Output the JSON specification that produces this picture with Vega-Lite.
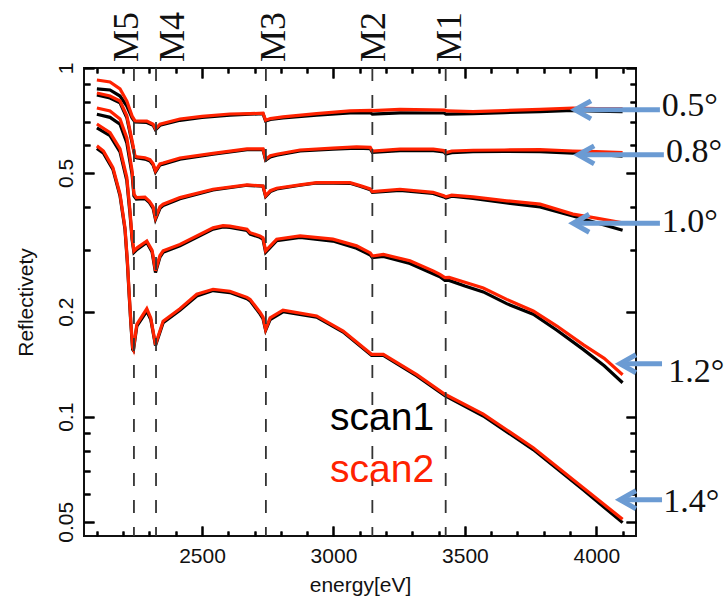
{
  "$schema": "https://vega.github.io/schema/vega-lite/v6.json",
  "width": 552,
  "height": 468,
  "autosize": {"type": "none"},
  "padding": {"left": 84, "top": 68, "right": 92, "bottom": 62},
  "background": "white",
  "config": {
    "view": {"stroke": "#111111", "strokeWidth": 2},
    "axis": {
      "labelFont": "Liberation Sans",
      "titleFont": "Liberation Sans",
      "labelFontSize": 21,
      "titleFontSize": 21,
      "titleFontWeight": "normal",
      "labelColor": "#111111",
      "titleColor": "#111111",
      "labelOverlap": false
    }
  },
  "datasets": {
    "curves": [
      {"a":"0.5","s":"scan1","E":2100,"R":0.871},{"a":"0.5","s":"scan1","E":2150,"R":0.865},{"a":"0.5","s":"scan1","E":2188,"R":0.831},{"a":"0.5","s":"scan1","E":2214,"R":0.778},{"a":"0.5","s":"scan1","E":2234,"R":0.719},{"a":"0.5","s":"scan1","E":2245,"R":0.700},{"a":"0.5","s":"scan1","E":2290,"R":0.698},{"a":"0.5","s":"scan1","E":2314,"R":0.685},{"a":"0.5","s":"scan1","E":2323,"R":0.665},{"a":"0.5","s":"scan1","E":2340,"R":0.685},{"a":"0.5","s":"scan1","E":2416,"R":0.708},{"a":"0.5","s":"scan1","E":2500,"R":0.722},{"a":"0.5","s":"scan1","E":2606,"R":0.733},{"a":"0.5","s":"scan1","E":2683,"R":0.737},{"a":"0.5","s":"scan1","E":2732,"R":0.740},{"a":"0.5","s":"scan1","E":2742,"R":0.705},{"a":"0.5","s":"scan1","E":2760,"R":0.712},{"a":"0.5","s":"scan1","E":2808,"R":0.719},{"a":"0.5","s":"scan1","E":2936,"R":0.733},{"a":"0.5","s":"scan1","E":3063,"R":0.744},{"a":"0.5","s":"scan1","E":3140,"R":0.745},{"a":"0.5","s":"scan1","E":3148,"R":0.737},{"a":"0.5","s":"scan1","E":3253,"R":0.744},{"a":"0.5","s":"scan1","E":3420,"R":0.743},{"a":"0.5","s":"scan1","E":3428,"R":0.737},{"a":"0.5","s":"scan1","E":3531,"R":0.740},{"a":"0.5","s":"scan1","E":3650,"R":0.745},{"a":"0.5","s":"scan1","E":3786,"R":0.750},{"a":"0.5","s":"scan1","E":3911,"R":0.756},{"a":"0.5","s":"scan1","E":4000,"R":0.752},{"a":"0.5","s":"scan1","E":4100,"R":0.750},
      {"a":"0.5","s":"scan2","E":2100,"R":0.924},{"a":"0.5","s":"scan2","E":2150,"R":0.912},{"a":"0.5","s":"scan2","E":2188,"R":0.871},{"a":"0.5","s":"scan2","E":2214,"R":0.804},{"a":"0.5","s":"scan2","E":2234,"R":0.728},{"a":"0.5","s":"scan2","E":2245,"R":0.705},{"a":"0.5","s":"scan2","E":2290,"R":0.704},{"a":"0.5","s":"scan2","E":2314,"R":0.690},{"a":"0.5","s":"scan2","E":2323,"R":0.669},{"a":"0.5","s":"scan2","E":2340,"R":0.690},{"a":"0.5","s":"scan2","E":2416,"R":0.714},{"a":"0.5","s":"scan2","E":2500,"R":0.727},{"a":"0.5","s":"scan2","E":2606,"R":0.738},{"a":"0.5","s":"scan2","E":2683,"R":0.740},{"a":"0.5","s":"scan2","E":2732,"R":0.742},{"a":"0.5","s":"scan2","E":2742,"R":0.708},{"a":"0.5","s":"scan2","E":2760,"R":0.716},{"a":"0.5","s":"scan2","E":2808,"R":0.724},{"a":"0.5","s":"scan2","E":2936,"R":0.740},{"a":"0.5","s":"scan2","E":3063,"R":0.753},{"a":"0.5","s":"scan2","E":3145,"R":0.756},{"a":"0.5","s":"scan2","E":3150,"R":0.755},{"a":"0.5","s":"scan2","E":3253,"R":0.761},{"a":"0.5","s":"scan2","E":3424,"R":0.757},{"a":"0.5","s":"scan2","E":3432,"R":0.753},{"a":"0.5","s":"scan2","E":3531,"R":0.750},{"a":"0.5","s":"scan2","E":3650,"R":0.755},{"a":"0.5","s":"scan2","E":3786,"R":0.761},{"a":"0.5","s":"scan2","E":3911,"R":0.768},{"a":"0.5","s":"scan2","E":4000,"R":0.765},{"a":"0.5","s":"scan2","E":4100,"R":0.765},
      {"a":"0.8","s":"scan1","E":2100,"R":0.837},{"a":"0.8","s":"scan1","E":2150,"R":0.820},{"a":"0.8","s":"scan1","E":2188,"R":0.794},{"a":"0.8","s":"scan1","E":2214,"R":0.720},{"a":"0.8","s":"scan1","E":2234,"R":0.610},{"a":"0.8","s":"scan1","E":2245,"R":0.555},{"a":"0.8","s":"scan1","E":2253,"R":0.552},{"a":"0.8","s":"scan1","E":2283,"R":0.548},{"a":"0.8","s":"scan1","E":2302,"R":0.541},{"a":"0.8","s":"scan1","E":2314,"R":0.527},{"a":"0.8","s":"scan1","E":2323,"R":0.503},{"a":"0.8","s":"scan1","E":2340,"R":0.527},{"a":"0.8","s":"scan1","E":2352,"R":0.530},{"a":"0.8","s":"scan1","E":2416,"R":0.548},{"a":"0.8","s":"scan1","E":2542,"R":0.566},{"a":"0.8","s":"scan1","E":2671,"R":0.583},{"a":"0.8","s":"scan1","E":2732,"R":0.583},{"a":"0.8","s":"scan1","E":2742,"R":0.544},{"a":"0.8","s":"scan1","E":2760,"R":0.556},{"a":"0.8","s":"scan1","E":2784,"R":0.562},{"a":"0.8","s":"scan1","E":2873,"R":0.578},{"a":"0.8","s":"scan1","E":2998,"R":0.585},{"a":"0.8","s":"scan1","E":3088,"R":0.589},{"a":"0.8","s":"scan1","E":3140,"R":0.587},{"a":"0.8","s":"scan1","E":3148,"R":0.573},{"a":"0.8","s":"scan1","E":3253,"R":0.579},{"a":"0.8","s":"scan1","E":3380,"R":0.579},{"a":"0.8","s":"scan1","E":3420,"R":0.575},{"a":"0.8","s":"scan1","E":3428,"R":0.567},{"a":"0.8","s":"scan1","E":3450,"R":0.572},{"a":"0.8","s":"scan1","E":3531,"R":0.576},{"a":"0.8","s":"scan1","E":3650,"R":0.577},{"a":"0.8","s":"scan1","E":3786,"R":0.576},{"a":"0.8","s":"scan1","E":3911,"R":0.570},{"a":"0.8","s":"scan1","E":4000,"R":0.565},{"a":"0.8","s":"scan1","E":4100,"R":0.559},
      {"a":"0.8","s":"scan2","E":2100,"R":0.848},{"a":"0.8","s":"scan2","E":2150,"R":0.831},{"a":"0.8","s":"scan2","E":2188,"R":0.804},{"a":"0.8","s":"scan2","E":2214,"R":0.729},{"a":"0.8","s":"scan2","E":2234,"R":0.618},{"a":"0.8","s":"scan2","E":2245,"R":0.559},{"a":"0.8","s":"scan2","E":2253,"R":0.556},{"a":"0.8","s":"scan2","E":2283,"R":0.553},{"a":"0.8","s":"scan2","E":2302,"R":0.546},{"a":"0.8","s":"scan2","E":2314,"R":0.531},{"a":"0.8","s":"scan2","E":2323,"R":0.507},{"a":"0.8","s":"scan2","E":2340,"R":0.531},{"a":"0.8","s":"scan2","E":2352,"R":0.534},{"a":"0.8","s":"scan2","E":2416,"R":0.552},{"a":"0.8","s":"scan2","E":2542,"R":0.569},{"a":"0.8","s":"scan2","E":2671,"R":0.586},{"a":"0.8","s":"scan2","E":2732,"R":0.586},{"a":"0.8","s":"scan2","E":2742,"R":0.547},{"a":"0.8","s":"scan2","E":2760,"R":0.560},{"a":"0.8","s":"scan2","E":2784,"R":0.566},{"a":"0.8","s":"scan2","E":2873,"R":0.582},{"a":"0.8","s":"scan2","E":2998,"R":0.589},{"a":"0.8","s":"scan2","E":3088,"R":0.594},{"a":"0.8","s":"scan2","E":3140,"R":0.592},{"a":"0.8","s":"scan2","E":3148,"R":0.578},{"a":"0.8","s":"scan2","E":3253,"R":0.585},{"a":"0.8","s":"scan2","E":3380,"R":0.585},{"a":"0.8","s":"scan2","E":3420,"R":0.580},{"a":"0.8","s":"scan2","E":3428,"R":0.572},{"a":"0.8","s":"scan2","E":3450,"R":0.578},{"a":"0.8","s":"scan2","E":3531,"R":0.581},{"a":"0.8","s":"scan2","E":3650,"R":0.582},{"a":"0.8","s":"scan2","E":3786,"R":0.583},{"a":"0.8","s":"scan2","E":3911,"R":0.578},{"a":"0.8","s":"scan2","E":4000,"R":0.576},{"a":"0.8","s":"scan2","E":4100,"R":0.572},
      {"a":"1.0","s":"scan1","E":2100,"R":0.737},{"a":"1.0","s":"scan1","E":2150,"R":0.722},{"a":"1.0","s":"scan1","E":2188,"R":0.690},{"a":"1.0","s":"scan1","E":2214,"R":0.610},{"a":"1.0","s":"scan1","E":2234,"R":0.495},{"a":"1.0","s":"scan1","E":2241,"R":0.430},{"a":"1.0","s":"scan1","E":2250,"R":0.421},{"a":"1.0","s":"scan1","E":2283,"R":0.422},{"a":"1.0","s":"scan1","E":2300,"R":0.411},{"a":"1.0","s":"scan1","E":2314,"R":0.396},{"a":"1.0","s":"scan1","E":2323,"R":0.368},{"a":"1.0","s":"scan1","E":2340,"R":0.396},{"a":"1.0","s":"scan1","E":2352,"R":0.403},{"a":"1.0","s":"scan1","E":2416,"R":0.422},{"a":"1.0","s":"scan1","E":2542,"R":0.447},{"a":"1.0","s":"scan1","E":2671,"R":0.461},{"a":"1.0","s":"scan1","E":2732,"R":0.458},{"a":"1.0","s":"scan1","E":2742,"R":0.428},{"a":"1.0","s":"scan1","E":2760,"R":0.442},{"a":"1.0","s":"scan1","E":2784,"R":0.450},{"a":"1.0","s":"scan1","E":2873,"R":0.461},{"a":"1.0","s":"scan1","E":2936,"R":0.468},{"a":"1.0","s":"scan1","E":3063,"R":0.467},{"a":"1.0","s":"scan1","E":3101,"R":0.458},{"a":"1.0","s":"scan1","E":3140,"R":0.448},{"a":"1.0","s":"scan1","E":3148,"R":0.440},{"a":"1.0","s":"scan1","E":3253,"R":0.446},{"a":"1.0","s":"scan1","E":3379,"R":0.437},{"a":"1.0","s":"scan1","E":3420,"R":0.427},{"a":"1.0","s":"scan1","E":3428,"R":0.424},{"a":"1.0","s":"scan1","E":3450,"R":0.429},{"a":"1.0","s":"scan1","E":3531,"R":0.423},{"a":"1.0","s":"scan1","E":3659,"R":0.410},{"a":"1.0","s":"scan1","E":3786,"R":0.3995},{"a":"1.0","s":"scan1","E":3911,"R":0.3765},{"a":"1.0","s":"scan1","E":4000,"R":0.360},{"a":"1.0","s":"scan1","E":4100,"R":0.3425},
      {"a":"1.0","s":"scan2","E":2100,"R":0.768},{"a":"1.0","s":"scan2","E":2150,"R":0.753},{"a":"1.0","s":"scan2","E":2188,"R":0.714},{"a":"1.0","s":"scan2","E":2214,"R":0.630},{"a":"1.0","s":"scan2","E":2234,"R":0.507},{"a":"1.0","s":"scan2","E":2241,"R":0.435},{"a":"1.0","s":"scan2","E":2250,"R":0.425},{"a":"1.0","s":"scan2","E":2283,"R":0.426},{"a":"1.0","s":"scan2","E":2300,"R":0.415},{"a":"1.0","s":"scan2","E":2314,"R":0.400},{"a":"1.0","s":"scan2","E":2323,"R":0.372},{"a":"1.0","s":"scan2","E":2340,"R":0.400},{"a":"1.0","s":"scan2","E":2352,"R":0.407},{"a":"1.0","s":"scan2","E":2416,"R":0.425},{"a":"1.0","s":"scan2","E":2542,"R":0.449},{"a":"1.0","s":"scan2","E":2671,"R":0.462},{"a":"1.0","s":"scan2","E":2732,"R":0.459},{"a":"1.0","s":"scan2","E":2742,"R":0.430},{"a":"1.0","s":"scan2","E":2760,"R":0.445},{"a":"1.0","s":"scan2","E":2784,"R":0.452},{"a":"1.0","s":"scan2","E":2873,"R":0.462},{"a":"1.0","s":"scan2","E":2936,"R":0.469},{"a":"1.0","s":"scan2","E":3063,"R":0.469},{"a":"1.0","s":"scan2","E":3101,"R":0.460},{"a":"1.0","s":"scan2","E":3140,"R":0.450},{"a":"1.0","s":"scan2","E":3148,"R":0.442},{"a":"1.0","s":"scan2","E":3253,"R":0.449},{"a":"1.0","s":"scan2","E":3379,"R":0.440},{"a":"1.0","s":"scan2","E":3420,"R":0.430},{"a":"1.0","s":"scan2","E":3428,"R":0.427},{"a":"1.0","s":"scan2","E":3450,"R":0.432},{"a":"1.0","s":"scan2","E":3531,"R":0.427},{"a":"1.0","s":"scan2","E":3659,"R":0.416},{"a":"1.0","s":"scan2","E":3786,"R":0.407},{"a":"1.0","s":"scan2","E":3911,"R":0.381},{"a":"1.0","s":"scan2","E":4000,"R":0.371},{"a":"1.0","s":"scan2","E":4100,"R":0.360},
      {"a":"1.2","s":"scan1","E":2100,"R":0.673},{"a":"1.2","s":"scan1","E":2150,"R":0.640},{"a":"1.2","s":"scan1","E":2188,"R":0.575},{"a":"1.2","s":"scan1","E":2214,"R":0.475},{"a":"1.2","s":"scan1","E":2226,"R":0.382},{"a":"1.2","s":"scan1","E":2234,"R":0.322},{"a":"1.2","s":"scan1","E":2241,"R":0.296},{"a":"1.2","s":"scan1","E":2253,"R":0.302},{"a":"1.2","s":"scan1","E":2290,"R":0.316},{"a":"1.2","s":"scan1","E":2310,"R":0.297},{"a":"1.2","s":"scan1","E":2323,"R":0.259},{"a":"1.2","s":"scan1","E":2340,"R":0.287},{"a":"1.2","s":"scan1","E":2352,"R":0.296},{"a":"1.2","s":"scan1","E":2416,"R":0.309},{"a":"1.2","s":"scan1","E":2542,"R":0.345},{"a":"1.2","s":"scan1","E":2580,"R":0.350},{"a":"1.2","s":"scan1","E":2606,"R":0.349},{"a":"1.2","s":"scan1","E":2671,"R":0.342},{"a":"1.2","s":"scan1","E":2683,"R":0.334},{"a":"1.2","s":"scan1","E":2720,"R":0.327},{"a":"1.2","s":"scan1","E":2732,"R":0.323},{"a":"1.2","s":"scan1","E":2742,"R":0.296},{"a":"1.2","s":"scan1","E":2784,"R":0.320},{"a":"1.2","s":"scan1","E":2873,"R":0.327},{"a":"1.2","s":"scan1","E":2998,"R":0.319},{"a":"1.2","s":"scan1","E":3088,"R":0.304},{"a":"1.2","s":"scan1","E":3140,"R":0.291},{"a":"1.2","s":"scan1","E":3148,"R":0.286},{"a":"1.2","s":"scan1","E":3190,"R":0.288},{"a":"1.2","s":"scan1","E":3291,"R":0.275},{"a":"1.2","s":"scan1","E":3379,"R":0.257},{"a":"1.2","s":"scan1","E":3405,"R":0.252},{"a":"1.2","s":"scan1","E":3424,"R":0.246},{"a":"1.2","s":"scan1","E":3440,"R":0.246},{"a":"1.2","s":"scan1","E":3500,"R":0.237},{"a":"1.2","s":"scan1","E":3570,"R":0.228},{"a":"1.2","s":"scan1","E":3659,"R":0.211},{"a":"1.2","s":"scan1","E":3760,"R":0.1967},{"a":"1.2","s":"scan1","E":3850,"R":0.177},{"a":"1.2","s":"scan1","E":3950,"R":0.156},{"a":"1.2","s":"scan1","E":4030,"R":0.140},{"a":"1.2","s":"scan1","E":4100,"R":0.1252},
      {"a":"1.2","s":"scan2","E":2100,"R":0.691},{"a":"1.2","s":"scan2","E":2150,"R":0.653},{"a":"1.2","s":"scan2","E":2188,"R":0.586},{"a":"1.2","s":"scan2","E":2214,"R":0.485},{"a":"1.2","s":"scan2","E":2226,"R":0.389},{"a":"1.2","s":"scan2","E":2234,"R":0.326},{"a":"1.2","s":"scan2","E":2241,"R":0.299},{"a":"1.2","s":"scan2","E":2253,"R":0.305},{"a":"1.2","s":"scan2","E":2290,"R":0.319},{"a":"1.2","s":"scan2","E":2310,"R":0.300},{"a":"1.2","s":"scan2","E":2323,"R":0.262},{"a":"1.2","s":"scan2","E":2340,"R":0.290},{"a":"1.2","s":"scan2","E":2352,"R":0.299},{"a":"1.2","s":"scan2","E":2416,"R":0.312},{"a":"1.2","s":"scan2","E":2542,"R":0.348},{"a":"1.2","s":"scan2","E":2580,"R":0.353},{"a":"1.2","s":"scan2","E":2606,"R":0.352},{"a":"1.2","s":"scan2","E":2671,"R":0.345},{"a":"1.2","s":"scan2","E":2683,"R":0.337},{"a":"1.2","s":"scan2","E":2720,"R":0.330},{"a":"1.2","s":"scan2","E":2732,"R":0.326},{"a":"1.2","s":"scan2","E":2742,"R":0.299},{"a":"1.2","s":"scan2","E":2784,"R":0.323},{"a":"1.2","s":"scan2","E":2873,"R":0.330},{"a":"1.2","s":"scan2","E":2998,"R":0.323},{"a":"1.2","s":"scan2","E":3088,"R":0.309},{"a":"1.2","s":"scan2","E":3140,"R":0.295},{"a":"1.2","s":"scan2","E":3148,"R":0.289},{"a":"1.2","s":"scan2","E":3190,"R":0.292},{"a":"1.2","s":"scan2","E":3291,"R":0.280},{"a":"1.2","s":"scan2","E":3379,"R":0.262},{"a":"1.2","s":"scan2","E":3405,"R":0.256},{"a":"1.2","s":"scan2","E":3424,"R":0.2505},{"a":"1.2","s":"scan2","E":3440,"R":0.251},{"a":"1.2","s":"scan2","E":3500,"R":0.243},{"a":"1.2","s":"scan2","E":3570,"R":0.234},{"a":"1.2","s":"scan2","E":3659,"R":0.217},{"a":"1.2","s":"scan2","E":3760,"R":0.201},{"a":"1.2","s":"scan2","E":3850,"R":0.182},{"a":"1.2","s":"scan2","E":3950,"R":0.161},{"a":"1.2","s":"scan2","E":4030,"R":0.147},{"a":"1.2","s":"scan2","E":4100,"R":0.132},
      {"a":"1.4","s":"scan1","E":2100,"R":0.588},{"a":"1.4","s":"scan1","E":2125,"R":0.570},{"a":"1.4","s":"scan1","E":2161,"R":0.512},{"a":"1.4","s":"scan1","E":2188,"R":0.430},{"a":"1.4","s":"scan1","E":2207,"R":0.344},{"a":"1.4","s":"scan1","E":2216,"R":0.276},{"a":"1.4","s":"scan1","E":2223,"R":0.222},{"a":"1.4","s":"scan1","E":2229,"R":0.186},{"a":"1.4","s":"scan1","E":2236,"R":0.156},{"a":"1.4","s":"scan1","E":2239,"R":0.155},{"a":"1.4","s":"scan1","E":2252,"R":0.182},{"a":"1.4","s":"scan1","E":2290,"R":0.201},{"a":"1.4","s":"scan1","E":2305,"R":0.190},{"a":"1.4","s":"scan1","E":2323,"R":0.160},{"a":"1.4","s":"scan1","E":2352,"R":0.186},{"a":"1.4","s":"scan1","E":2416,"R":0.202},{"a":"1.4","s":"scan1","E":2480,"R":0.222},{"a":"1.4","s":"scan1","E":2542,"R":0.230},{"a":"1.4","s":"scan1","E":2606,"R":0.227},{"a":"1.4","s":"scan1","E":2671,"R":0.218},{"a":"1.4","s":"scan1","E":2683,"R":0.215},{"a":"1.4","s":"scan1","E":2721,"R":0.197},{"a":"1.4","s":"scan1","E":2732,"R":0.191},{"a":"1.4","s":"scan1","E":2742,"R":0.177},{"a":"1.4","s":"scan1","E":2759,"R":0.190},{"a":"1.4","s":"scan1","E":2808,"R":0.200},{"a":"1.4","s":"scan1","E":2936,"R":0.193},{"a":"1.4","s":"scan1","E":3037,"R":0.175},{"a":"1.4","s":"scan1","E":3145,"R":0.150},{"a":"1.4","s":"scan1","E":3190,"R":0.150},{"a":"1.4","s":"scan1","E":3317,"R":0.131},{"a":"1.4","s":"scan1","E":3424,"R":0.115},{"a":"1.4","s":"scan1","E":3570,"R":0.1005},{"a":"1.4","s":"scan1","E":3760,"R":0.0805},{"a":"1.4","s":"scan1","E":3950,"R":0.0617},{"a":"1.4","s":"scan1","E":4100,"R":0.0497},
      {"a":"1.4","s":"scan2","E":2100,"R":0.598},{"a":"1.4","s":"scan2","E":2125,"R":0.578},{"a":"1.4","s":"scan2","E":2161,"R":0.518},{"a":"1.4","s":"scan2","E":2188,"R":0.435},{"a":"1.4","s":"scan2","E":2207,"R":0.348},{"a":"1.4","s":"scan2","E":2216,"R":0.280},{"a":"1.4","s":"scan2","E":2223,"R":0.225},{"a":"1.4","s":"scan2","E":2229,"R":0.188},{"a":"1.4","s":"scan2","E":2236,"R":0.158},{"a":"1.4","s":"scan2","E":2239,"R":0.156},{"a":"1.4","s":"scan2","E":2252,"R":0.184},{"a":"1.4","s":"scan2","E":2290,"R":0.204},{"a":"1.4","s":"scan2","E":2305,"R":0.192},{"a":"1.4","s":"scan2","E":2323,"R":0.161},{"a":"1.4","s":"scan2","E":2352,"R":0.188},{"a":"1.4","s":"scan2","E":2416,"R":0.204},{"a":"1.4","s":"scan2","E":2480,"R":0.2245},{"a":"1.4","s":"scan2","E":2542,"R":0.232},{"a":"1.4","s":"scan2","E":2606,"R":0.229},{"a":"1.4","s":"scan2","E":2671,"R":0.220},{"a":"1.4","s":"scan2","E":2683,"R":0.217},{"a":"1.4","s":"scan2","E":2721,"R":0.199},{"a":"1.4","s":"scan2","E":2732,"R":0.193},{"a":"1.4","s":"scan2","E":2742,"R":0.178},{"a":"1.4","s":"scan2","E":2759,"R":0.192},{"a":"1.4","s":"scan2","E":2808,"R":0.202},{"a":"1.4","s":"scan2","E":2936,"R":0.1945},{"a":"1.4","s":"scan2","E":3037,"R":0.176},{"a":"1.4","s":"scan2","E":3145,"R":0.151},{"a":"1.4","s":"scan2","E":3190,"R":0.151},{"a":"1.4","s":"scan2","E":3317,"R":0.132},{"a":"1.4","s":"scan2","E":3424,"R":0.116},{"a":"1.4","s":"scan2","E":3570,"R":0.1017},{"a":"1.4","s":"scan2","E":3760,"R":0.0815},{"a":"1.4","s":"scan2","E":3950,"R":0.0626},{"a":"1.4","s":"scan2","E":4100,"R":0.0508}
    ],
    "edges": [
      {"edge":"M5","E":2241,"LE":2213},
      {"edge":"M4","E":2325,"LE":2388},
      {"edge":"M3","E":2743,"LE":2772},
      {"edge":"M2","E":3148,"LE":3156},
      {"edge":"M1","E":3427,"LE":3443}
    ],
    "arrows": [
      {"angle":"0.5°","E0":4242,"E1":3919,"R":0.7588,"LE":4249,"LR":0.7764},
      {"angle":"0.8°","E0":4257,"E1":3931,"R":0.5637,"LE":4265,"LR":0.5736},
      {"angle":"1.0°","E0":4242,"E1":3912,"R":0.3589,"LE":4249,"LR":0.3613},
      {"angle":"1.2°","E0":4250,"E1":4090,"R":0.1419,"LE":4274,"LR":0.1342},
      {"angle":"1.4°","E0":4250,"E1":4090,"R":0.0578,"LE":4255,"LR":0.0569}
    ],
    "legend": [
      {"s":"scan1","E":2987,"R":0.0917},
      {"s":"scan2","E":2987,"R":0.0652}
    ]
  },
  "resolve": {"axis": {"x": "independent", "y": "independent"}},
  "layer": [
    {
      "data": {"name": "curves"},
      "transform": [{"filter": "datum.s == 'scan1'"}],
      "mark": {"type": "line", "color": "#000000", "strokeWidth": 3.2},
      "encoding": {
        "x": {"field": "E", "type": "quantitative",
              "scale": {"domain": [2051, 4151], "nice": false, "zero": false},
              "axis": {"orient": "bottom", "values": [2100,2200,2300,2400,2500,2600,2700,2800,2900,3000,3100,3200,3300,3400,3500,3600,3700,3800,3900,4000,4100], "domain": false, "ticks": true, "tickColor": "black", "tickWidth": 2, "tickSize": -10,
                       "tickDash": {"condition": {"test": "indexof([2500,3000,3500,4000], datum.value) >= 0", "value": [12, 1]}, "value": [5, 40]},
                       "grid": true, "gridColor": "black", "gridWidth": 2, "gridOpacity": 1,
                       "gridDash": {"condition": {"test": "indexof([2500,3000,3500,4000], datum.value) >= 0", "value": [10, 448, 10, 2000]}, "value": [5, 458, 5, 2000]},
                       "format": "d", "labelExpr": "indexof([2500,3000,3500,4000], datum.value) >= 0 ? datum.label : ''",
                       "labelPadding": 19, "title": "energy[eV]", "titlePadding": 8}},
        "y": {"field": "R", "type": "quantitative",
              "scale": {"type": "log", "domain": [0.0455, 1], "nice": false},
              "axis": {"orient": "left", "values": [0.05,0.06,0.07,0.08,0.09,0.1,0.2,0.3,0.4,0.5,0.6,0.7,0.8,0.9,1], "domain": false, "ticks": true, "tickColor": "black", "tickWidth": 2, "tickSize": -10,
                       "tickDash": {"condition": {"test": "indexof([0.05,0.1,0.2,0.5,1], datum.value) >= 0", "value": [12, 1]}, "value": [6, 40]},
                       "grid": true, "gridColor": "black", "gridWidth": 2, "gridOpacity": 1,
                       "gridDash": {"condition": {"test": "indexof([0.05,0.1,0.2,0.5,1], datum.value) >= 0", "value": [10, 532, 10, 2000]}, "value": [6, 540, 6, 2000]},
                       "format": "~g", "labelExpr": "indexof([0.05,0.1,0.2,0.5,1], datum.value) >= 0 ? datum.label : ''",
                       "labelAngle": 270, "labelAlign": "center", "labelBaseline": "bottom", "labelPadding": 18, "title": "Reflectivety", "titlePadding": 19}},
        "detail": {"field": "a", "type": "nominal"}
      }
    },
    {
      "data": {"name": "curves"},
      "transform": [{"filter": "datum.s == 'scan2'"}],
      "mark": {"type": "line", "color": "#ff2200", "strokeWidth": 3.2},
      "encoding": {
        "x": {"field": "E", "type": "quantitative",
              "axis": {"orient": "top", "values": [2100,2200,2300,2400,2500,2600,2700,2800,2900,3000,3100,3200,3300,3400,3500,3600,3700,3800,3900,4000,4100], "domain": false, "grid": false, "ticks": true, "tickColor": "black", "tickWidth": 2, "tickSize": -10,
                       "tickDash": {"condition": {"test": "indexof([2500,3000,3500,4000], datum.value) >= 0", "value": [12, 1]}, "value": [5, 40]},
                       "labels": false, "title": null}},
        "y": {"field": "R", "type": "quantitative",
              "axis": {"orient": "right", "values": [0.05,0.06,0.07,0.08,0.09,0.1,0.2,0.3,0.4,0.5,0.6,0.7,0.8,0.9,1], "domain": false, "grid": false, "ticks": true, "tickColor": "black", "tickWidth": 2, "tickSize": -10,
                       "tickDash": {"condition": {"test": "indexof([0.05,0.1,0.2,0.5,1], datum.value) >= 0", "value": [12, 1]}, "value": [6, 40]},
                       "labels": false, "title": null}},
        "detail": {"field": "a", "type": "nominal"}
      }
    },
    {
      "data": {"name": "edges"},
      "mark": {"type": "rule", "color": "#333333", "strokeWidth": 1.8, "strokeDash": [13, 14]},
      "encoding": {
        "x": {"field": "E", "type": "quantitative", "axis": null}
      }
    },
    {
      "data": {"name": "edges"},
      "mark": {"type": "text", "font": "Liberation Serif", "fontSize": 36, "angle": 270, "align": "left", "baseline": "middle", "color": "#111111"},
      "encoding": {
        "x": {"field": "LE", "type": "quantitative", "axis": null},
        "y": {"datum": 1.04, "type": "quantitative", "axis": null},
        "text": {"field": "edge"}
      }
    },
    {
      "data": {"name": "arrows"},
      "mark": {"type": "rule", "color": "#6b9bd3", "strokeWidth": 5},
      "encoding": {
        "x": {"field": "E0", "type": "quantitative", "axis": null},
        "x2": {"field": "E1"},
        "y": {"field": "R", "type": "quantitative", "axis": null}
      }
    },
    {
      "data": {"name": "arrows"},
      "mark": {"type": "point", "shape": "M 1.6 -0.9 L 0 0 L 1.6 0.9", "filled": false, "stroke": "#6b9bd3", "strokeWidth": 5, "size": 400, "opacity": 1},
      "encoding": {
        "x": {"field": "E1", "type": "quantitative", "axis": null},
        "y": {"field": "R", "type": "quantitative", "axis": null}
      }
    },
    {
      "data": {"name": "arrows"},
      "mark": {"type": "text", "font": "Liberation Serif", "fontSize": 34, "align": "left", "baseline": "middle", "color": "#111111"},
      "encoding": {
        "x": {"field": "LE", "type": "quantitative", "axis": null},
        "y": {"field": "LR", "type": "quantitative", "axis": null},
        "text": {"field": "angle"}
      }
    },
    {
      "data": {"name": "legend"},
      "mark": {"type": "text", "font": "Liberation Sans", "fontSize": 39, "align": "left", "baseline": "alphabetic"},
      "encoding": {
        "x": {"field": "E", "type": "quantitative", "axis": null},
        "y": {"field": "R", "type": "quantitative", "axis": null},
        "text": {"field": "s"},
        "color": {"field": "s", "type": "nominal", "scale": {"domain": ["scan1", "scan2"], "range": ["#000000", "#ff2200"]}, "legend": null}
      }
    }
  ]
}
